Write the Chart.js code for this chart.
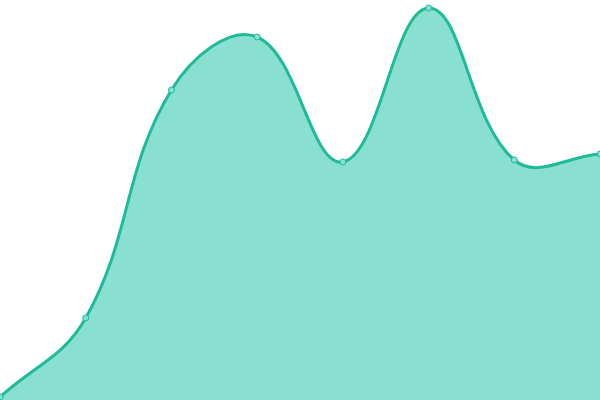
<!DOCTYPE html>
<html><head><meta charset="utf-8">
<script src="https://cdn.jsdelivr.net/npm/chart.js@4/dist/chart.umd.min.js"></script>
<style>html,body{margin:0;padding:0;background:#fff}#w{width:600px;height:400px}</style>
</head><body><div id="w"><canvas id="c"></canvas></div>
<script>
const labels = ["A","B","C","D","E","F","G","H"];
const values = [0.75, 20.5, 77.5, 90.75, 59.5, 98, 60, 61.5];
new Chart(document.getElementById('c'), {
  type: 'line',
  data: { labels: labels, datasets: [{
    data: values,
    fill: true,
    backgroundColor: '#8ae0d0',
    borderColor: '#1fbb97',
    borderWidth: 3,
    tension: 0.4,
    pointRadius: 3,
    pointBackgroundColor: '#8ae0d0',
    pointBorderColor: '#1fbb97',
    pointBorderWidth: 1
  }]},
  options: {
    responsive: true, maintainAspectRatio: false, animation: false,
    layout: { padding: 0, autoPadding: false },
    plugins: { legend: { display: false }, tooltip: { enabled: false } },
    scales: {
      x: { display: false, offset: false },
      y: { display: false, min: 0, max: 100 }
    }
  }
});
</script></body></html>
